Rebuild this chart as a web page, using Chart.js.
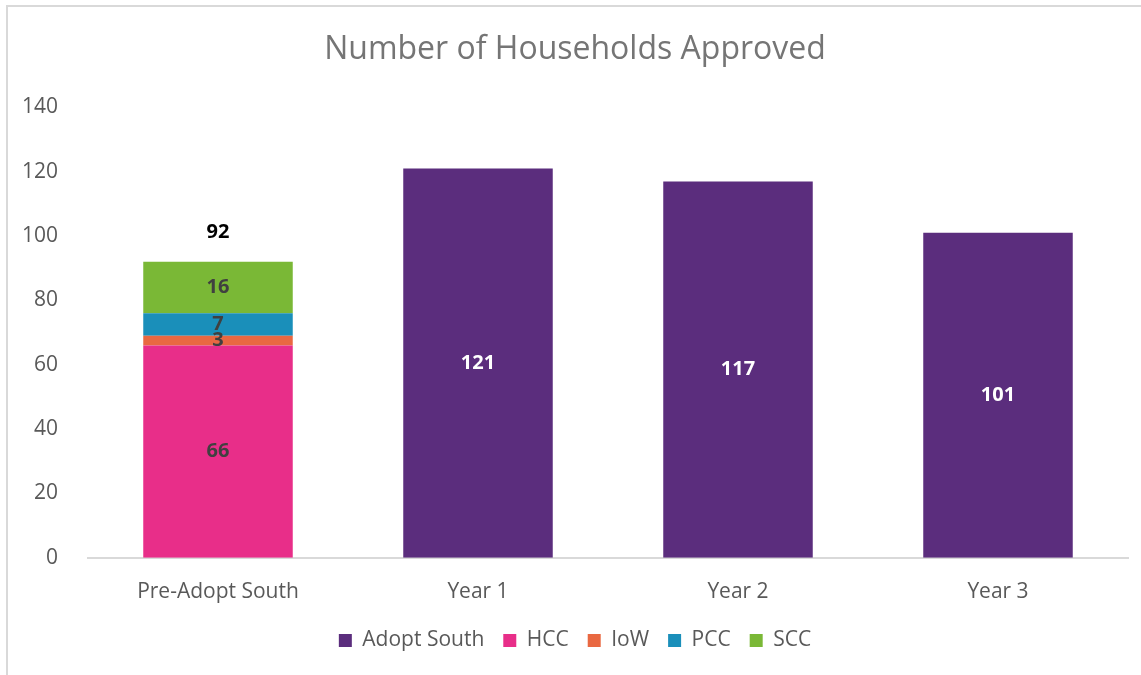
<!DOCTYPE html>
<html>
<head>
<meta charset="utf-8">
<script src="https://cdn.jsdelivr.net/npm/chart.js/dist/chart.umd.min.js"></script>
<style>
    body { margin: 0; background: #fff; }
    #wrap { position: relative; width: 1141px; height: 675px; }
    #frame {
        position: absolute; left: 6px; top: 5px; right: -10px; bottom: -10px;
        border-left: 2px solid #d9d9d9; border-top: 2px solid #d9d9d9;
    }
    canvas { position: absolute; left: 0; top: 0; }
</style>
</head>
<body>
<div id="wrap">
    <div id="frame"></div>
    <canvas id="myChart" width="1141" height="675"></canvas>
</div>
<script>
    // Datos
    const categories = ['Pre-Adopt South', 'Year 1', 'Year 2', 'Year 3'];
    const adoptSouth = [null, 121, 117, 101];
    const hcc = [66, null, null, null];
    const iow = [3, null, null, null];
    const pcc = [7, null, null, null];
    const scc = [16, null, null, null];
    const totals = [92, null, null, null];
    const yTicks = [0, 20, 40, 60, 80, 100, 120, 140];

    const FONT = "'Open Sans', 'Liberation Sans', sans-serif";
    Chart.defaults.font.family = FONT;

    // etiquetas dentro de las barras y total encima
    const labelsPlugin = {
        id: 'barLabels',
        afterDatasetsDraw(chart) {
            const ctx = chart.ctx;
            ctx.save();
            ctx.textAlign = 'center';
            ctx.textBaseline = 'middle';
            ctx.font = 'bold 20px ' + FONT;
            chart.data.datasets.forEach((ds, i) => {
                const meta = chart.getDatasetMeta(i);
                meta.data.forEach((bar, j) => {
                    const v = ds.data[j];
                    if (v === null || v === undefined) return;
                    const mid = (bar.y + bar.base) / 2;
                    ctx.fillStyle = ds.labelColor;
                    ctx.fillText(String(v), bar.x, mid);
                });
            });
            const x = chart.scales.x, y = chart.scales.y;
            ctx.fillStyle = '#000';
            totals.forEach((t, j) => {
                if (t === null) return;
                ctx.fillText(String(t), x.getPixelForValue(j), y.getPixelForValue(t) - 30);
            });
            ctx.restore();
        }
    };

    const data = {
        labels: categories,
        datasets: [
            { label: 'Adopt South', data: adoptSouth, backgroundColor: '#5b2d7d', labelColor: '#ffffff' },
            { label: 'HCC', data: hcc, backgroundColor: '#e82e89', labelColor: '#404040' },
            { label: 'IoW', data: iow, backgroundColor: '#e96841', labelColor: '#404040' },
            { label: 'PCC', data: pcc, backgroundColor: '#1a8fba', labelColor: '#404040' },
            { label: 'SCC', data: scc, backgroundColor: '#7ab836', labelColor: '#404040' }
        ]
    };

    const config = {
        type: 'bar',
        data: data,
        plugins: [labelsPlugin],
        options: {
            responsive: false,
            animation: false,
            categoryPercentage: 1,
            barPercentage: 0.575,
            layout: { padding: { left: 22, right: 13, top: 31, bottom: 14 } },
            plugins: {
                title: {
                    display: true,
                    text: 'Number of Households Approved',
                    color: '#757575',
                    font: { size: 32, weight: 'normal' },
                    padding: { top: 0, bottom: 38 }
                },
                legend: {
                    position: 'bottom',
                    labels: {
                        color: '#595959',
                        font: { size: 21 },
                        boxWidth: 13,
                        boxHeight: 13,
                        padding: 19
                    }
                },
                tooltip: { enabled: false }
            },
            scales: {
                x: {
                    stacked: true,
                    grid: { display: false },
                    border: { color: '#d9d9d9', width: 2 },
                    afterFit: (axis) => { axis.height -= 8; },
                    ticks: { color: '#595959', font: { size: 21 }, padding: 14 }
                },
                y: {
                    stacked: true,
                    min: 0,
                    max: 140,
                    afterBuildTicks: (axis) => { axis.ticks = yTicks.map(v => ({ value: v })); },
                    afterFit: (axis) => { axis.width = 66; },
                    grid: { display: false },
                    border: { display: false },
                    ticks: { color: '#595959', font: { size: 21 }, padding: 22 }
                }
            }
        }
    };

    const myChart = new Chart(document.getElementById('myChart').getContext('2d'), config);
</script>
</body>
</html>
